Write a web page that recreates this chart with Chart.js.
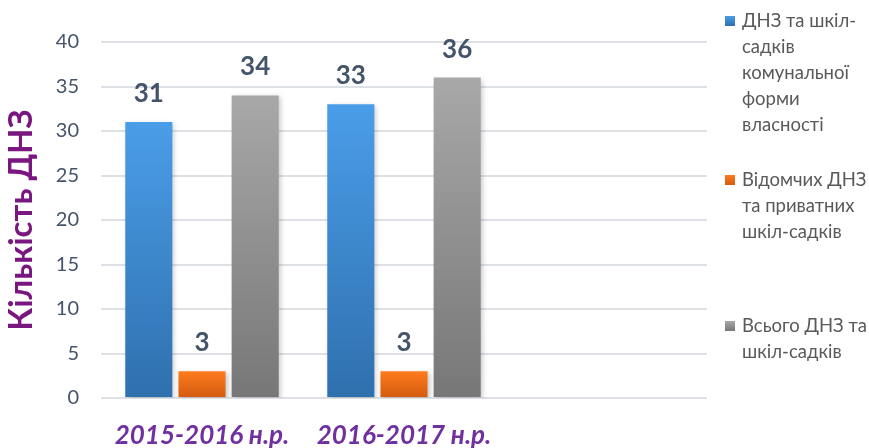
<!DOCTYPE html>
<html>
<head>
<meta charset="utf-8">
<script src="https://cdn.jsdelivr.net/npm/chart.js@4/dist/chart.umd.min.js"></script>
<style>
  html, body { margin: 0; padding: 0; background: #fff; }
  #wrap { width: 869px; height: 448px; position: relative; }
</style>
</head>
<body>
<div id="wrap"><canvas id="dnzChart"></canvas></div>
<script>
// data
const categories = ["2015-2016 н.р.", "2016-2017 н.р.", ""];
const communalValues = [31, 33, null];
const privateValues = [3, 3, null];
const totalValues = [34, 36, null];
const yTicks = [0, 5, 10, 15, 20, 25, 30, 35, 40];

// legend text, one entry per line as in the picture
const communalName = ["ДНЗ та шкіл-", "садків", "комунальної", "форми", "власності"];
const privateName = ["Відомчих ДНЗ", "та приватних", "шкіл-садків"];
const totalName = ["Всього ДНЗ та", "шкіл-садків"];

const FONT = "Lato, 'Open Sans', sans-serif";

// gradient for each bar, from its top to the axis
function barGradient(top, bottom) {
  return (context) => {
    const chart = context.chart;
    if (!chart.chartArea || context.raw == null) return top;
    const y = chart.scales.y;
    const y0 = y.getPixelForValue(context.raw);
    const y1 = y.getPixelForValue(0);
    const g = chart.ctx.createLinearGradient(0, y0, 0, y1);
    g.addColorStop(0, top);
    g.addColorStop(1, bottom);
    return g;
  };
}

// value labels above the bars
const valueLabels = {
  id: "valueLabels",
  afterDatasetsDraw(chart) {
    const ctx = chart.ctx;
    ctx.save();
    ctx.font = "bold 26px " + FONT;
    ctx.fillStyle = "#44546a";
    ctx.textAlign = "center";
    ctx.textBaseline = "alphabetic";
    chart.data.datasets.forEach((ds, i) => {
      chart.getDatasetMeta(i).data.forEach((bar, j) => {
        if (ds.data[j] == null) return;
        ctx.fillText(String(ds.data[j]), bar.x, bar.y - 20);
      });
    });
    ctx.restore();
  }
};

// soft shadow behind bars
const barShadow = {
  id: "barShadow",
  beforeDatasetsDraw(chart) {
    const ctx = chart.ctx;
    ctx.save();
    ctx.shadowColor = "rgba(0,0,0,0.22)";
    ctx.shadowBlur = 5;
    ctx.shadowOffsetX = 2;
    ctx.shadowOffsetY = 2;
  },
  afterDatasetsDraw(chart) {
    chart.ctx.restore();
  }
};

// legend on the right with wrapped lines, entries spread evenly
const sideLegend = {
  id: "sideLegend",
  afterDraw(chart) {
    const ctx = chart.ctx;
    const lineH = 26;
    const boxX = 725, textX = 742, firstCenter = 73, step = 133;
    ctx.save();
    ctx.font = "18.5px " + FONT;
    ctx.textBaseline = "middle";
    ctx.textAlign = "left";
    chart.data.datasets.forEach((ds, i) => {
      const lines = ds.legendLines;
      const center = firstCenter + i * step;
      const startY = center - (lines.length - 1) * lineH / 2;
      const g = ctx.createLinearGradient(0, startY - 5, 0, startY + 5);
      g.addColorStop(0, ds.legendColors[0]);
      g.addColorStop(1, ds.legendColors[1]);
      ctx.fillStyle = g;
      ctx.fillRect(boxX, startY - 5, 10, 10);
      ctx.fillStyle = "#595959";
      lines.forEach((t, k) => ctx.fillText(t, textX, startY + k * lineH));
    });
    ctx.restore();
  }
};

const ctx = document.getElementById("dnzChart");

new Chart(ctx, {
  type: "bar",
  data: {
    labels: categories,
    datasets: [
      {
        label: communalName.join(" "),
        legendLines: communalName,
        legendColors: ["#4a9de8", "#2f70ae"],
        data: communalValues,
        backgroundColor: barGradient("#4a9de8", "#2f70ae"),
      },
      {
        label: privateName.join(" "),
        legendLines: privateName,
        legendColors: ["#ff7b1c", "#d25a10"],
        data: privateValues,
        backgroundColor: barGradient("#ff7b1c", "#d25a10"),
      },
      {
        label: totalName.join(" "),
        legendLines: totalName,
        legendColors: ["#a8a8a8", "#777777"],
        data: totalValues,
        backgroundColor: barGradient("#a8a8a8", "#777777"),
      },
    ],
  },
  options: {
    responsive: true,
    maintainAspectRatio: false,
    animation: false,
    layout: { padding: { left: 0, right: 162, top: 42, bottom: 0 } },
    categoryPercentage: 0.79,
    barPercentage: 0.885,
    plugins: {
      legend: { display: false },
      tooltip: { enabled: false },
    },
    scales: {
      x: {
        grid: { display: false, drawTicks: false },
        border: { display: false },
        ticks: {
          color: "#7030a0",
          font: { family: FONT, size: 26, weight: "bold", style: "italic" },
          padding: 22,
          maxRotation: 0,
        },
        afterFit(scale) { scale.height = 50; },
      },
      y: {
        min: 0,
        max: 40,
        afterBuildTicks(scale) {
          scale.ticks = yTicks.map((v) => ({ value: v }));
        },
        grid: { color: "#dde1e6", lineWidth: 2, drawTicks: false },
        border: { display: false },
        ticks: {
          color: "#44546a",
          font: { family: FONT, size: 20 },
          padding: 22,
        },
        title: {
          display: true,
          text: "Кількість ДНЗ",
          color: "#7a1680",
          font: { family: FONT, size: 33, weight: "bold" },
          padding: { top: 2, bottom: 0 },
        },
        afterFit(scale) { scale.width = 101; },
      },
    },
  },
  plugins: [barShadow, valueLabels, sideLegend],
});
</script>
</body>
</html>
